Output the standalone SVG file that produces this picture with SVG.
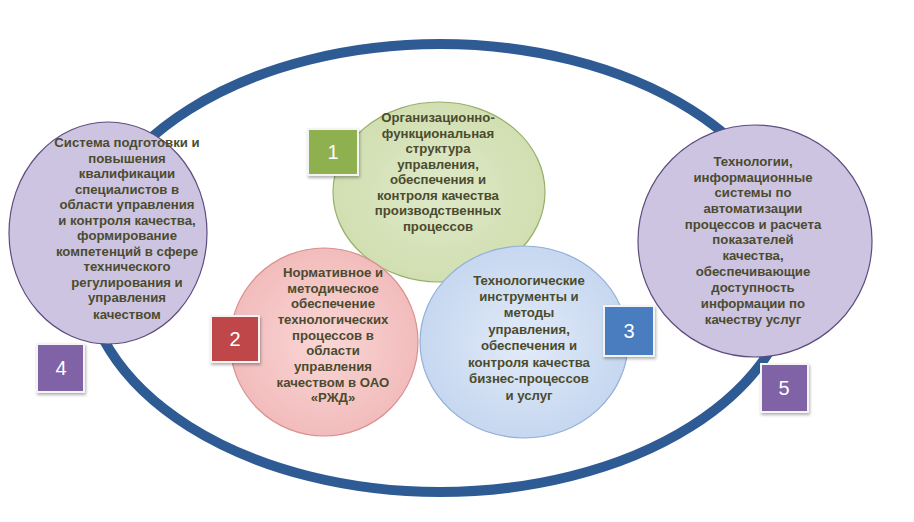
<svg xmlns="http://www.w3.org/2000/svg" width="914" height="522" viewBox="0 0 914 522">
<defs>
<radialGradient id="gGreen" cx="50%" cy="50%" r="55%"><stop offset="0" stop-color="#dfe9c9"/><stop offset="1" stop-color="#cfdeae"/></radialGradient>
<radialGradient id="gPink" cx="50%" cy="50%" r="55%"><stop offset="0" stop-color="#fad6d6"/><stop offset="1" stop-color="#f1b9b9"/></radialGradient>
<radialGradient id="gBlue" cx="50%" cy="50%" r="55%"><stop offset="0" stop-color="#e2ebf8"/><stop offset="1" stop-color="#c3d5ef"/></radialGradient>
<filter id="sh" x="-20%" y="-20%" width="150%" height="150%"><feDropShadow dx="1" dy="2" stdDeviation="1.5" flood-color="#000" flood-opacity="0.3"/></filter>
</defs>
<style>
.t{font-family:"Liberation Sans",Arial,sans-serif;font-weight:bold;font-size:13.2px;fill:#4b4b2f;text-anchor:middle}
.n{font-family:"Liberation Sans",Arial,sans-serif;font-size:20px;fill:#ffffff;text-anchor:middle}
.sq{stroke:#f4f4f4;stroke-width:2;filter:url(#sh)}
.pc{fill:#cdc4e2;stroke:#5e4d7f;stroke-width:1.2}
</style>
<rect width="914" height="522" fill="#ffffff"/>
<g id="connectors">
<ellipse cx="440" cy="268" rx="355" ry="224" fill="none" stroke="#2f5b95" stroke-width="10"/>
</g>
<g id="node4">
<ellipse class="pc" cx="108" cy="233" rx="99" ry="111"/>
<text class="t" x="127" y="147">Система подготовки и</text>
<text class="t" x="127" y="163">повышения</text>
<text class="t" x="127" y="178">квалификации</text>
<text class="t" x="127" y="194">специалистов в</text>
<text class="t" x="127" y="209">области управления</text>
<text class="t" x="127" y="225">и контроля качества,</text>
<text class="t" x="127" y="240">формирование</text>
<text class="t" x="127" y="256">компетенций в сфере</text>
<text class="t" x="127" y="271">технического</text>
<text class="t" x="127" y="287">регулирования и</text>
<text class="t" x="127" y="302">управления</text>
<text class="t" x="127" y="319">качеством</text>
</g>
<g id="node5">
<ellipse class="pc" cx="755" cy="241" rx="117" ry="116"/>
<text class="t" x="753" y="166">Технологии,</text>
<text class="t" x="753" y="182">информационные</text>
<text class="t" x="753" y="197">системы по</text>
<text class="t" x="753" y="213">автоматизации</text>
<text class="t" x="753" y="229">процессов и расчета</text>
<text class="t" x="753" y="244">показателей</text>
<text class="t" x="753" y="260">качества,</text>
<text class="t" x="753" y="276">обеспечивающие</text>
<text class="t" x="753" y="292">доступность</text>
<text class="t" x="753" y="308">информации по</text>
<text class="t" x="753" y="324">качеству услуг</text>
</g>
<g id="node1">
<ellipse cx="439" cy="192" rx="106" ry="90" fill="url(#gGreen)" stroke="#9aae6c" stroke-width="1.2"/>
<text class="t" x="438" y="122">Организационно-</text>
<text class="t" x="438" y="138">функциональная</text>
<text class="t" x="438" y="153">структура</text>
<text class="t" x="438" y="169">управления,</text>
<text class="t" x="438" y="184">обеспечения и</text>
<text class="t" x="438" y="200">контроля качества</text>
<text class="t" x="438" y="215">производственных</text>
<text class="t" x="438" y="231">процессов</text>
</g>
<g id="node2">
<ellipse cx="324" cy="342" rx="94" ry="94" fill="url(#gPink)" stroke="#d99090" stroke-width="1.2"/>
<text class="t" x="333" y="277">Нормативное и</text>
<text class="t" x="333" y="293">методическое</text>
<text class="t" x="333" y="308">обеспечение</text>
<text class="t" x="333" y="324">технологических</text>
<text class="t" x="333" y="340">процессов в</text>
<text class="t" x="333" y="355">области</text>
<text class="t" x="333" y="371">управления</text>
<text class="t" x="333" y="387">качеством в ОАО</text>
<text class="t" x="333" y="402">«РЖД»</text>
</g>
<g id="node3">
<ellipse cx="524" cy="342" rx="104" ry="96" fill="url(#gBlue)" stroke="#93afd6" stroke-width="1.2"/>
<text class="t" x="529" y="285">Технологические</text>
<text class="t" x="529" y="301">инструменты и</text>
<text class="t" x="529" y="317">методы</text>
<text class="t" x="529" y="334">управления,</text>
<text class="t" x="529" y="350">обеспечения и</text>
<text class="t" x="529" y="367">контроля качества</text>
<text class="t" x="529" y="383">бизнес-процессов</text>
<text class="t" x="529" y="400">и услуг</text>
</g>
<g id="badge1"><rect class="sq" x="308" y="129" width="50" height="46" fill="#8fb04f"/><text class="n" x="333" y="159">1</text></g>
<g id="badge2"><rect class="sq" x="211" y="316" width="48" height="46" fill="#c0474a"/><text class="n" x="235" y="346">2</text></g>
<g id="badge3"><rect class="sq" x="604" y="306" width="50" height="50" fill="#4a7dbf"/><text class="n" x="629" y="338">3</text></g>
<g id="badge4"><rect class="sq" x="37" y="344" width="47" height="48" fill="#8062a6"/><text class="n" x="61" y="375">4</text></g>
<g id="badge5"><rect class="sq" x="761" y="364" width="47" height="48" fill="#8062a6"/><text class="n" x="784" y="395">5</text></g>
</svg>
